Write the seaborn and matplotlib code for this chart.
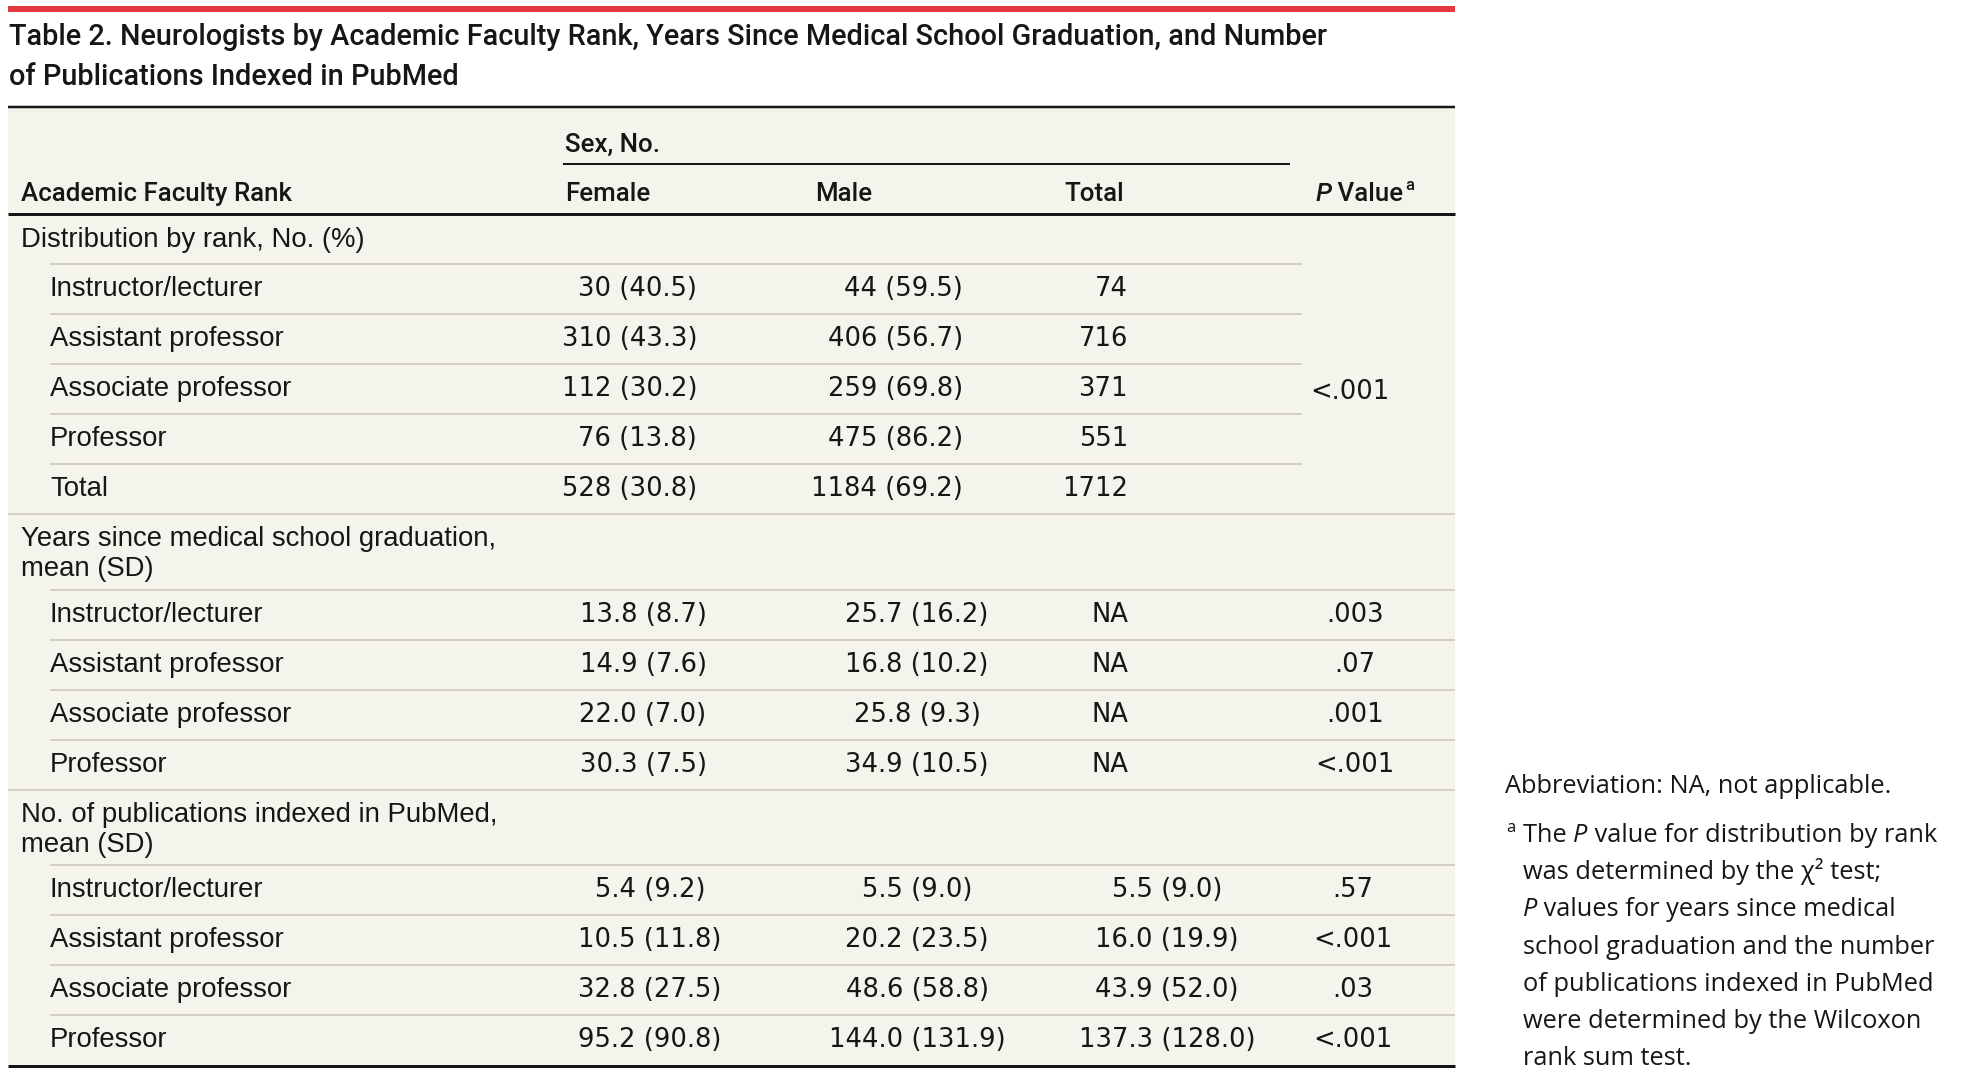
import matplotlib
matplotlib.use("Agg")
import matplotlib.pyplot as plt
import seaborn as sns

# ---------------- data ----------------
ranks = ["Instructor/lecturer", "Assistant professor", "Associate professor", "Professor"]

dist_female_n = [30, 310, 112, 76, 528]
dist_female_pct = [40.5, 43.3, 30.2, 13.8, 30.8]
dist_male_n = [44, 406, 259, 475, 1184]
dist_male_pct = [59.5, 56.7, 69.8, 86.2, 69.2]
dist_total = [74, 716, 371, 551, 1712]
dist_p = "<.001"

years_female_mean = [13.8, 14.9, 22.0, 30.3]
years_female_sd = [8.7, 7.6, 7.0, 7.5]
years_male_mean = [25.7, 16.8, 25.8, 34.9]
years_male_sd = [16.2, 10.2, 9.3, 10.5]
years_total = ["NA", "NA", "NA", "NA"]
years_p = [".003", ".07", ".001", "<.001"]

pubs_female_mean = [5.4, 10.5, 32.8, 95.2]
pubs_female_sd = [9.2, 11.8, 27.5, 90.8]
pubs_male_mean = [5.5, 20.2, 48.6, 144.0]
pubs_male_sd = [9.0, 23.5, 58.8, 131.9]
pubs_total_mean = [5.5, 16.0, 43.9, 137.3]
pubs_total_sd = [9.0, 19.9, 52.0, 128.0]
pubs_p = [".57", "<.001", ".03", "<.001"]

title_lines = ["Table 2. Neurologists by Academic Faculty Rank, Years Since Medical School Graduation, and Number",
               "of Publications Indexed in PubMed"]
section_titles = [["Distribution by rank, No. (%)"],
                  ["Years since medical school graduation,", "mean (SD)"],
                  ["No. of publications indexed in PubMed,", "mean (SD)"]]

# ---------------- style ----------------
sns.set_theme(style="white")
plt.rcParams["font.family"] = ["Liberation Sans", "DejaVu Sans"]

W, H = 1963, 1075
fig = plt.figure(figsize=(W / 100, H / 100), dpi=100)
ax = fig.add_axes([0, 0, 1, 1])
ax.set_xlim(0, W)
ax.set_ylim(H, 0)
ax.axis("off")
renderer = fig.canvas.get_renderer()

BEIGE = "#F4F3EC"
RED = "#E23A3E"
RULE = "#D3CFC1"
INK = "#161616"

LABEL_FONT = dict(family=["Liberation Sans", "DejaVu Sans"], fontsize=19.8, color=INK)
NUM_FONT = dict(family=["DejaVu Sans"], fontsize=18.6, color=INK)
HEAD_FONT = dict(family=["Roboto", "DejaVu Sans"], fontsize=18.6, fontweight="medium", color=INK)
TITLE_FONT = dict(family=["Roboto", "DejaVu Sans"], fontsize=20.8, fontweight="medium", color=INK)
NOTE_FONT = dict(family=["Open Sans", "DejaVu Sans"], fontsize=18.3, color=INK)

px = 0.72  # points per pixel at 100 dpi

L, R = 8, 1455


def hline(y, x0, x1, color, lw_px):
    ax.plot([x0, x1], [y, y], color=color, lw=lw_px * px, solid_capstyle="butt", zorder=2)


def text_width(s, **kw):
    t1 = ax.text(0, 0, s + "|", **kw)
    t2 = ax.text(0, 0, "|", **kw)
    w = t1.get_window_extent(renderer).width - t2.get_window_extent(renderer).width
    t1.remove()
    t2.remove()
    return w


def runs(x, y, parts, **kw):
    for s, extra in parts:
        opts = dict(kw)
        opts.update(extra)
        ax.text(x, y, s, ha="left", va="baseline", **opts)
        x += text_width(s, **opts)


def fmt_np(n, p):
    return f"{n} ({p:.1f})"


def fmt_msd(m, s):
    return f"{m:.1f} ({s:.1f})"


# background + top rule
ax.add_patch(plt.Rectangle((L, 107), R - L, 1066 - 107, color=BEIGE, lw=0, zorder=0))
ax.add_patch(plt.Rectangle((L, 6), R - L, 6, color=RED, lw=0, zorder=1))

# title
for i, line in enumerate(title_lines):
    ax.text(9, 45 + 40 * i, line, ha="left", va="baseline", **TITLE_FONT)
hline(107, L, R, INK, 2.5)

# column headers
ax.text(565, 152, "Sex, No.", ha="left", va="baseline", **HEAD_FONT)
hline(164, 563, 1290, INK, 2)
ax.text(21, 201, "Academic Faculty Rank", ha="left", va="baseline", **HEAD_FONT)
ax.text(565, 201, "Female", ha="left", va="baseline", **HEAD_FONT)
ax.text(815, 201, "Male", ha="left", va="baseline", **HEAD_FONT)
ax.text(1064, 201, "Total", ha="left", va="baseline", **HEAD_FONT)
hf = dict(HEAD_FONT)
runs(1315, 201, [("P", dict(style="italic")), (" Value", {})], **hf)
ax.text(1315 + text_width("P Value", **hf) + 2, 190, "a", ha="left", va="baseline",
        **{**hf, "fontsize": 12})
hline(214, L, R, INK, 3)

ROW_H = 50
BASE = 32
X_LABEL_SEC, X_LABEL_ROW = 21, 50
X_RULE_ROW = 50

# ---- section 1 : distribution ----
y = 214
ax.text(X_LABEL_SEC, y + 33, section_titles[0][0], ha="left", va="baseline", **LABEL_FONT)
y += ROW_H
sec1_labels = ranks + ["Total"]
sec1_top = y
for i, lab in enumerate(sec1_labels):
    hline(y, X_RULE_ROW, 1302, RULE, 2)
    b = y + BASE
    ax.text(X_LABEL_ROW, b, lab, ha="left", va="baseline", **LABEL_FONT)
    ax.text(697, b, fmt_np(dist_female_n[i], dist_female_pct[i]), ha="right", va="baseline", **NUM_FONT)
    ax.text(963, b, fmt_np(dist_male_n[i], dist_male_pct[i]), ha="right", va="baseline", **NUM_FONT)
    ax.text(1128, b, f"{dist_total[i]}", ha="right", va="baseline", **NUM_FONT)
    y += ROW_H
ax.text(1350, (sec1_top + y) / 2, dist_p, ha="center", va="center_baseline", **NUM_FONT)
hline(y, L, R, RULE, 2)

# ---- section 2 : years ----
top = y
ax.text(X_LABEL_SEC, top + 32, section_titles[1][0], ha="left", va="baseline", **LABEL_FONT)
ax.text(X_LABEL_SEC, top + 62, section_titles[1][1], ha="left", va="baseline", **LABEL_FONT)
y = top + 76
for i, lab in enumerate(ranks):
    hline(y, X_RULE_ROW, R, RULE, 2)
    b = y + BASE
    ax.text(X_LABEL_ROW, b, lab, ha="left", va="baseline", **LABEL_FONT)
    ax.text(643, b, fmt_msd(years_female_mean[i], years_female_sd[i]), ha="center", va="baseline", **NUM_FONT)
    ax.text(917, b, fmt_msd(years_male_mean[i], years_male_sd[i]), ha="center", va="baseline", **NUM_FONT)
    ax.text(1128, b, years_total[i], ha="right", va="baseline", **NUM_FONT)
    ax.text(1355, b, years_p[i], ha="center", va="baseline", **NUM_FONT)
    y += ROW_H
hline(y, L, R, RULE, 2)

# ---- section 3 : publications ----
top = y
ax.text(X_LABEL_SEC, top + 32, section_titles[2][0], ha="left", va="baseline", **LABEL_FONT)
ax.text(X_LABEL_SEC, top + 62, section_titles[2][1], ha="left", va="baseline", **LABEL_FONT)
y = top + 75
for i, lab in enumerate(ranks):
    hline(y, X_RULE_ROW, R, RULE, 2)
    b = y + BASE
    ax.text(X_LABEL_ROW, b, lab, ha="left", va="baseline", **LABEL_FONT)
    ax.text(650, b, fmt_msd(pubs_female_mean[i], pubs_female_sd[i]), ha="center", va="baseline", **NUM_FONT)
    ax.text(917, b, fmt_msd(pubs_male_mean[i], pubs_male_sd[i]), ha="center", va="baseline", **NUM_FONT)
    ax.text(1167, b, fmt_msd(pubs_total_mean[i], pubs_total_sd[i]), ha="center", va="baseline", **NUM_FONT)
    ax.text(1353, b, pubs_p[i], ha="center", va="baseline", **NUM_FONT)
    y += ROW_H
hline(1066, L, R, INK, 3)

# ---- footnotes ----
NX, NXS = 1523, 1506
ax.text(1505, 793, "Abbreviation: NA, not applicable.", ha="left", va="baseline", **NOTE_FONT)
ax.text(NXS, 832, "a", ha="left", va="baseline", **{**NOTE_FONT, "fontsize": 12})
note_lines = [
    [("The ", {}), ("P", dict(style="italic")), (" value for distribution by rank", {})],
    [("was determined by the \u03c7\u00b2 test;", {})],
    [("P", dict(style="italic")), (" values for years since medical", {})],
    [("school graduation and the number", {})],
    [("of publications indexed in PubMed", {})],
    [("were determined by the Wilcoxon", {})],
    [("rank sum test.", {})],
]
for k, parts in enumerate(note_lines):
    runs(NX, 842 + 37.2 * k, parts, **NOTE_FONT)

fig.savefig("out.png", dpi=100)
